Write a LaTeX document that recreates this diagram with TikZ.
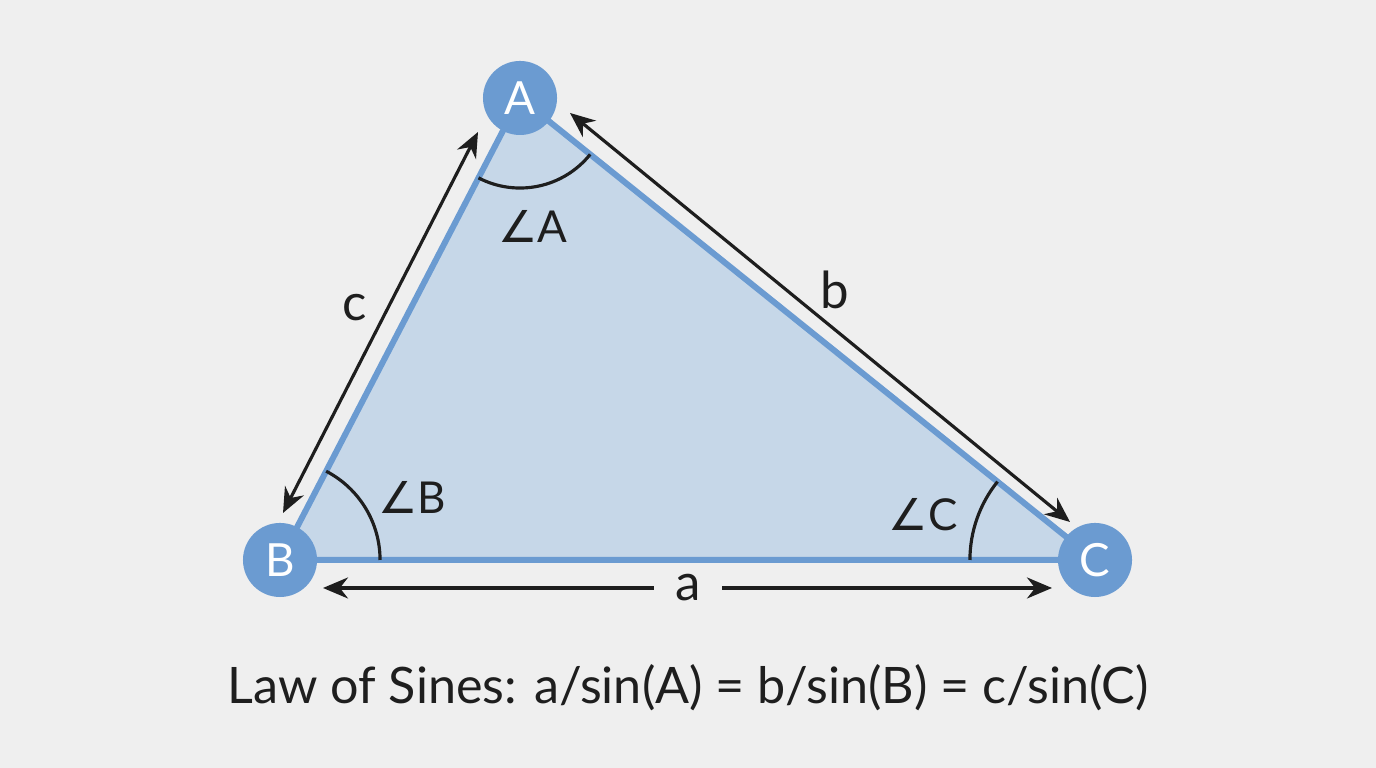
\documentclass[tikz,border=0pt]{standalone}
\usepackage{amsmath}
\usepackage{fontspec}
\setmainfont{Lato}
\newfontfamily\anglefont{DejaVu Sans}
\usetikzlibrary{arrows.meta,angles}

\definecolor{bgcol}{HTML}{EFEFEF}
\definecolor{trifill}{HTML}{C6D7E8}
\definecolor{triedge}{HTML}{6B9BD1}
\definecolor{inkcol}{HTML}{1E1E1E}

\newcommand{\angsign}{{\anglefont\symbol{"2220}}}

\tikzset{
    vertex/.style={circle, fill=triedge, text=white, minimum size=0.74cm, inner sep=0pt, font=\fontsize{13}{13}\selectfont},
    dimline/.style={inkcol, line width=0.9pt, {Stealth[length=2.5mm,width=2.1mm]}-{Stealth[length=2.5mm,width=2.1mm]}},
    sidelabel/.style={inkcol, font=\fontsize{14.5}{14.5}\selectfont},
    anglelabel/.style={inkcol, font=\fontsize{12.5}{12.5}\selectfont},
    anglearc/.style={draw=inkcol, line width=0.9pt}
}

\begin{document}
\begin{tikzpicture}[x=0.01cm, y=0.01cm]

        \fill[bgcol] (0,0) rectangle (1376,768);
        \useasboundingbox (0,0) rectangle (1376,768);

        % corners
        \coordinate (pA) at (520,670);
        \coordinate (pB) at (280,208);
        \coordinate (pC) at (1095,208);

        \filldraw[fill=trifill, draw=triedge, line width=1.7pt, line join=round]
            (pA) -- (pB) -- (pC) -- cycle;

        % angle marks
        \pic[anglearc, angle radius=0.9cm] {angle = pB--pA--pC};
        \pic[anglearc, angle radius=1.0cm] {angle = pC--pB--pA};
        \pic[anglearc, angle radius=1.25cm] {angle = pA--pC--pB};

        \node[vertex] (A) at (pA) {A};
        \node[vertex] (B) at (pB) {B};
        \node[vertex] (C) at (pC) {C};

        % side arrows
        \coordinate (cLow) at (283,255);
        \coordinate (cHigh) at (478,636);
        \coordinate (bHigh) at (570,655);
        \coordinate (bLow) at (1070,246);
        \coordinate (aLeft) at (323,180);
        \coordinate (aRight) at (1052,180);

        \draw[dimline] (cLow) -- (cHigh);
        \draw[dimline] (bHigh) -- (bLow);
        \draw[dimline] (aLeft) -- (aRight);

        \node[sidelabel] (labc) at (355,460) {c};
        \node[sidelabel] (labb) at (835,478) {b};
        \node[sidelabel, fill=bgcol, inner xsep=6pt] (laba) at (688,180) {a};

        \node[anglelabel] (angA) at (533,542) {\angsign A};
        \node[anglelabel] (angB) at (412,271) {\angsign B};
        \node[anglelabel] (angC) at (923,253) {\angsign C};

        \node[inkcol, font=\fontsize{14.3}{14.3}\selectfont] (law) at (688,80)
            {Law of Sines: a/sin(A) = b/sin(B) = c/sin(C)};

\end{tikzpicture}
\end{document}
